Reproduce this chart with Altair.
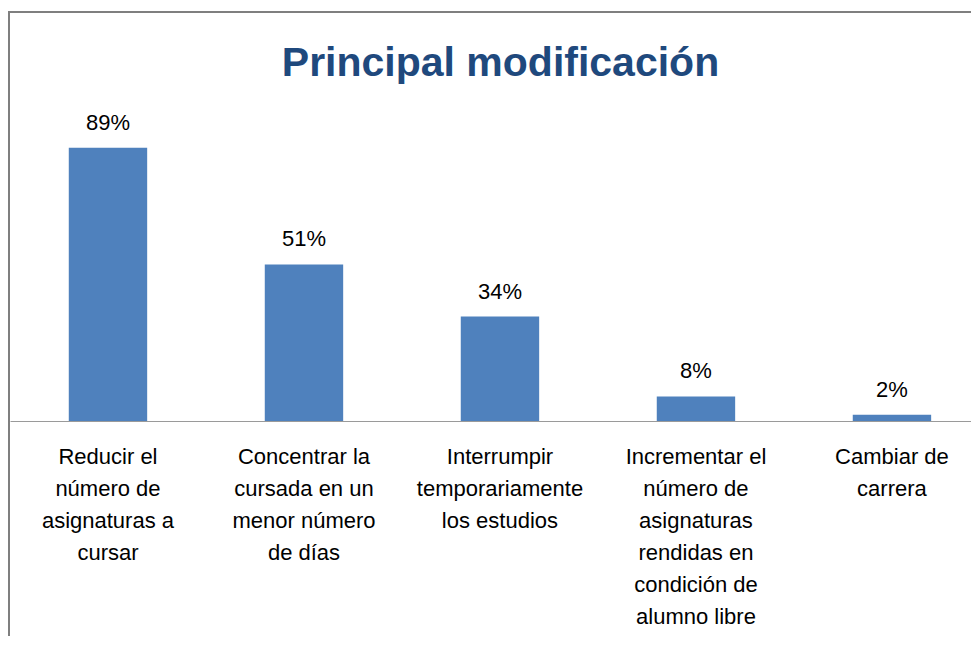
import altair as alt
import pandas as pd

categories = [
    "Reducir el|número de|asignaturas a|cursar",
    "Concentrar la|cursada en un|menor número|de días",
    "Interrumpir|temporariamente|los estudios",
    "Incrementar el|número de|asignaturas|rendidas en|condición de|alumno libre",
    "Cambiar de|carrera",
]
values = [89, 51, 34, 8, 2]
value_labels = ["89%", "51%", "34%", "8%", "2%"]
title_text = "Principal modificación"

df = pd.DataFrame({"cat": categories, "val": values, "lab": value_labels})

FONT = "Liberation Sans"

x_enc = alt.X(
    "cat:N",
    sort=categories,
    title=None,
    scale=alt.Scale(paddingInner=0.6, paddingOuter=0.2516, align=0.596, round=False),
    axis=alt.Axis(
        labelExpr="split(datum.label, '|')",
        labelAngle=0,
        ticks=False,
        labelPadding=42,
        labelBaseline="alphabetic",
        labelLineHeight=32,
        labelFontSize=22,
        labelFont=FONT,
        labelColor="#000000",
        labelLimit=400,
        labelOverlap=False,
        domainColor="#9a9a9a",
        domainWidth=1,
        grid=False,
    ),
)
y_enc = alt.Y("val:Q", scale=alt.Scale(domain=[0, 100]), axis=None)

base = alt.Chart(df).encode(x=x_enc, y=y_enc)

bars = base.mark_bar(color="#4F81BD")
text = base.mark_text(
    baseline="alphabetic", dy=-18, fontSize=22, font=FONT, color="#000000"
).encode(text="lab:N")

one = pd.DataFrame({"f": [0]})
frame_top = alt.Chart(one).mark_rule(color="#7f7f7f", strokeWidth=2).encode(
    x=alt.value(-2), x2=alt.value(1200), y=alt.value(-102)
)
frame_left = alt.Chart(one).mark_rule(color="#7f7f7f", strokeWidth=2).encode(
    x=alt.value(-1), y=alt.value(-103), y2=alt.value(900)
)

chart = (
    alt.layer(frame_top, frame_left, bars, text)
    .properties(
        width=961,
        height=307,
        padding={"left": 2, "top": 106, "right": 0, "bottom": 215},
        autosize=alt.AutoSizeParams(type="none"),
        title=alt.TitleParams(
            text=title_text,
            font=FONT,
            fontSize=41,
            fontWeight="bold",
            color="#1F497D",
            anchor="middle",
            frame="group",
            baseline="alphabetic",
            offset=-107,
            dx=10,
        ),
    )
    .configure_view(stroke=None)
)

chart.save("out.html", embed_options={"renderer": "svg", "actions": False})
